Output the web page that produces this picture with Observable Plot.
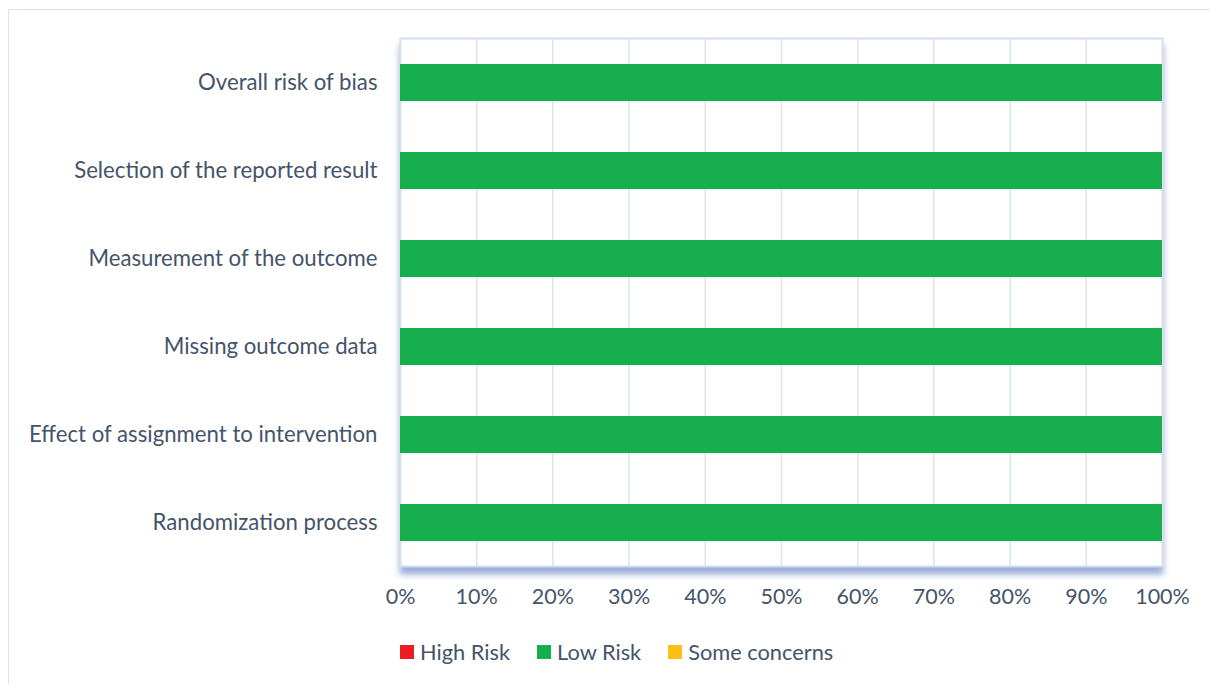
<!DOCTYPE html>
<html>
<head>
<meta charset="utf-8">
<script src="https://cdn.jsdelivr.net/npm/d3@7"></script>
<script src="https://cdn.jsdelivr.net/npm/@observablehq/plot@0.6"></script>
<style>
  html, body { margin: 0; padding: 0; background: #fff; }
  body { width: 1210px; height: 684px; position: relative; overflow: hidden; font-family: Lato, "Open Sans", sans-serif; }
  #border { position: absolute; left: 8px; top: 9px; width: 1220px; height: 700px; border: 1px solid #dde3ec; box-sizing: border-box; }
  #chart { position: absolute; left: 0; top: 0; }
  #legend { position: absolute; left: 400px; top: 638px; display: flex; align-items: center; font-size: 21.8px; color: #44546a; }
  .item { display: flex; align-items: center; margin-right: 27px; }
  .sw { width: 14px; height: 14px; margin-right: 6px; }
</style>
</head>
<body>
<div id="border"></div>
<div id="chart"></div>
<div id="legend"></div>
<script>
const domains = [
  "Overall risk of bias",
  "Selection of the reported result",
  "Measurement of the outcome",
  "Missing outcome data",
  "Effect of assignment to intervention",
  "Randomization process"
];
const riskLevels = ["High Risk", "Low Risk", "Some concerns"];
const riskColors = ["#ed1c24", "#16ad4c", "#fbc014"];
const highRisk = [0, 0, 0, 0, 0, 0];
const lowRisk = [100, 100, 100, 100, 100, 100];
const someConcerns = [0, 0, 0, 0, 0, 0];
const xTicks = [0, 10, 20, 30, 40, 50, 60, 70, 80, 90, 100];

const rows = [];
domains.forEach((d, i) => {
  rows.push({domain: d, risk: "High Risk", value: highRisk[i]});
  rows.push({domain: d, risk: "Low Risk", value: lowRisk[i]});
  rows.push({domain: d, risk: "Some concerns", value: someConcerns[i]});
});

const plot = Plot.plot({
  width: 1210,
  height: 622,
  marginLeft: 400,
  marginRight: 48,
  marginTop: 38,
  marginBottom: 56,
  style: {fontFamily: "Lato, 'Open Sans', sans-serif", fontSize: "21.5px", color: "#44546a", background: "transparent"},
  x: {domain: [0, 100], ticks: xTicks, tickFormat: d => d + "%", label: null, tickSize: 0, tickPadding: 22},
  y: {domain: domains, label: null, tickSize: 0, tickPadding: 23, paddingInner: 0.58, paddingOuter: 0.29},
  color: {domain: riskLevels, range: riskColors},
  marks: [
    Plot.frame({fill: "white", stroke: "#d3dcee", strokeWidth: 2}),
    Plot.gridX(xTicks, {stroke: "#dce3ee", strokeOpacity: 1, strokeWidth: 1.5}),
    Plot.barX(rows, Plot.stackX({y: "domain", x: "value", fill: "risk", order: riskLevels})),
    Plot.axisX({ticks: xTicks, tickFormat: d => d + "%", tickSize: 0, tickPadding: 22, fill: "#44546a"}),
    Plot.axisY({tickSize: 0, tickPadding: 23, fill: "#44546a", fontSize: 22.2})
  ]
});
document.getElementById("chart").appendChild(plot);
d3.select(plot).select("[aria-label=frame]").style("filter", "drop-shadow(0px 7px 3px rgba(90,120,190,0.6))");

const legend = document.getElementById("legend");
riskLevels.forEach((r, i) => {
  const item = document.createElement("div");
  item.className = "item";
  const sw = document.createElement("div");
  sw.className = "sw";
  sw.style.background = riskColors[i];
  const t = document.createElement("span");
  t.textContent = r;
  item.appendChild(sw);
  item.appendChild(t);
  legend.appendChild(item);
});
</script>
</body>
</html>
